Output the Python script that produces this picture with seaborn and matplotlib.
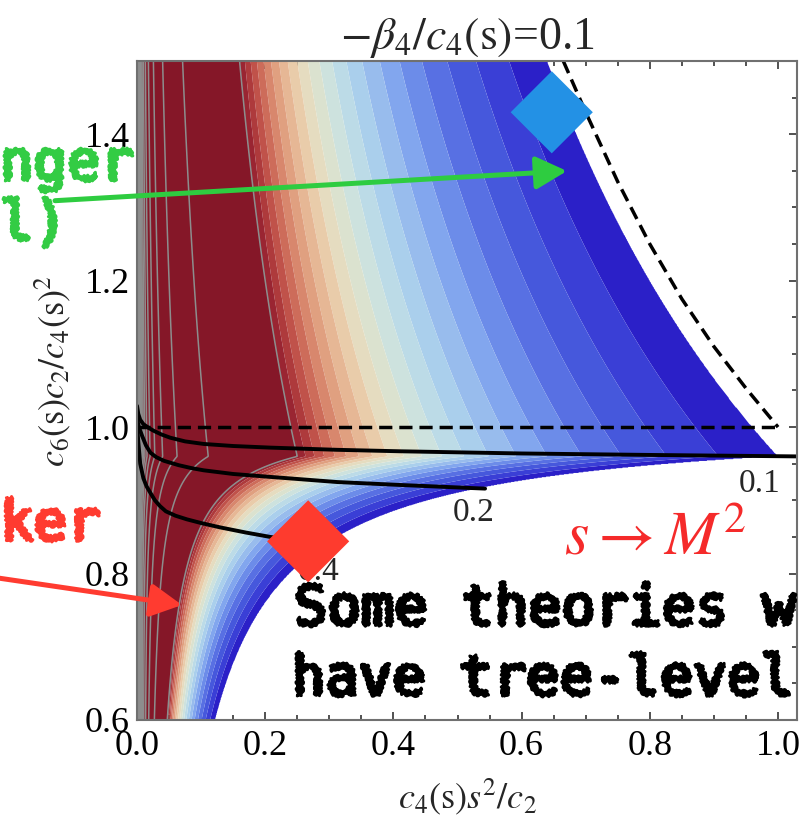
import numpy as np
import pandas as pd
import matplotlib
matplotlib.use("Agg")
import matplotlib.pyplot as plt
import matplotlib.patheffects as pe
from matplotlib.ticker import MultipleLocator, FormatStrFormatter
import seaborn as sns

# ---------------------------------------------------------------- data
x_ticks = [0.0, 0.2, 0.4, 0.6, 0.8, 1.0]
y_ticks = [0.6, 0.8, 1.0, 1.2, 1.4]

# curves of fixed -beta4/c4, labelled 0.1, 0.2, 0.4
curve_labels = ["0.1", "0.2", "0.4"]
curve_01_x = [0.0, 0.002, 0.005, 0.010, 0.018, 0.026, 0.038, 0.052, 0.075, 0.104,
              0.15, 0.208, 0.312, 0.41, 0.6, 0.8, 1.03]
curve_01_y = [1.029, 1.018, 1.010, 1.004, 0.999, 0.995, 0.990, 0.9855, 0.9805, 0.977,
              0.9742, 0.972, 0.969, 0.967, 0.964, 0.962, 0.960]
curve_02_x = [0.0, 0.003, 0.008, 0.014, 0.021, 0.030, 0.042, 0.065, 0.085, 0.104,
              0.15, 0.208, 0.312, 0.41, 0.543]
curve_02_y = [1.012, 1.000, 0.988, 0.975, 0.965, 0.959, 0.954, 0.948, 0.944, 0.941,
              0.936, 0.932, 0.925, 0.921, 0.916]
curve_04_x = [0.0, 0.002, 0.005, 0.010, 0.015, 0.021, 0.028, 0.036, 0.045, 0.060,
              0.078, 0.10, 0.13, 0.17, 0.208, 0.27]
curve_04_y = [1.005, 0.980, 0.950, 0.930, 0.919, 0.910, 0.900, 0.892, 0.885, 0.879,
              0.874, 0.869, 0.863, 0.856, 0.850, 0.843]
label_pos_x = [0.972, 0.526, 0.283]
label_pos_y = [0.922, 0.8835, 0.803]

# dashed reference bounds
dash_h_x = [0.0, 1.0]
dash_h_y = [1.0, 1.0]
dash_c_x = [0.665, 0.70, 0.75, 0.80, 0.85, 0.90, 0.95, 1.0]
dash_c_y = [1.5, 1.43, 1.335, 1.25, 1.175, 1.11, 1.053, 1.0]

# highlighted theories
diamond_x = [0.647, 0.267]
diamond_y = [1.43, 0.844]
diamond_colors = ["#2391e5", "#fe3b2e"]

# allowed-region shape
junction_y = 0.96            # the two branches meet here
upper_product = 0.96         # upper edge: x * y = upper_product
lower_a, lower_b = 0.05, 1.01  # lower edge: x = lower_a / (lower_b - y)
lower_power = 0.23           # extra steepness of the lower branch

# filled levels (20 bands) and grey contour levels
fill_levels = [1.0 + 0.05 * i for i in range(21)]
band_colors = ["#2b20c8", "#3a3fd6", "#4658dc", "#5870e3", "#6c8ce9",
               "#82a6ee", "#98bced", "#aacfec", "#bcdbe7", "#cde2de",
               "#dbe2cf", "#e5dcc0", "#e9ccaa", "#e6b795", "#e0a080",
               "#d8876d", "#cd6c5a", "#c0524a", "#ae3a3c", "#9a2532"]
over_color = "#851728"
line_levels = list(range(2, 60))

# ---------------------------------------------------------------- style
sns.set_theme(style="ticks")
plt.rcParams["font.family"] = ["Liberation Serif", "DejaVu Serif"]
plt.rcParams["mathtext.fontset"] = "stix"

W, H = 804, 826
fig = plt.figure(figsize=(W / 100, H / 100), dpi=100)
fig.patch.set_facecolor("white")
ax = fig.add_axes([137 / W, (H - 720) / H, 660 / W, 659 / H])
ax.set_facecolor("white")

# ---------------------------------------------------------------- field
gx = np.linspace(0.0004, 1.03, 1400)
gy = np.linspace(0.6, 1.5, 1100)
X, Y = np.meshgrid(gx, gy)
upper = Y >= junction_y
T = np.where(upper, X * Y / upper_product, X * (lower_b - Y) / lower_a)
P = np.where(upper, 0.5, 0.5 + lower_power * (junction_y - Y) / (junction_y - 0.6))
F = T ** (-P)
F = np.ma.masked_where(T > 1.0, F)

levels = fill_levels + [float(F.max()) + 1.0]
ax.contourf(X, Y, F, levels=levels, colors=band_colors + [over_color],
            antialiased=True, zorder=1)
ax.contour(X, Y, F, levels=line_levels, colors="#8d8d8d",
           linewidths=1.1, zorder=2)

# ---------------------------------------------------------------- lines
dash = (0, (3.8, 2.0))
sns.lineplot(x=dash_h_x, y=dash_h_y, ax=ax, color="black", lw=2.5,
             linestyle=dash, zorder=3)
sns.lineplot(x=dash_c_x, y=dash_c_y, ax=ax, color="black", lw=2.5,
             linestyle=dash, sort=False, estimator=None, zorder=3)

curves = pd.concat([
    pd.DataFrame({"x": curve_01_x, "y": curve_01_y, "c": "0.1"}),
    pd.DataFrame({"x": curve_02_x, "y": curve_02_y, "c": "0.2"}),
    pd.DataFrame({"x": curve_04_x, "y": curve_04_y, "c": "0.4"}),
])
sns.lineplot(data=curves, x="x", y="y", units="c", estimator=None, sort=False,
             color="black", lw=2.8, ax=ax, zorder=4, legend=False)

for lab, lx, ly in zip(curve_labels, label_pos_x, label_pos_y):
    ax.text(lx, ly, lab, fontsize=24, ha="center", va="center", zorder=4.5)

sns.scatterplot(x=diamond_x, y=diamond_y, hue=[0, 1], palette=diamond_colors,
                marker="D", s=1750, linewidth=0, ax=ax, legend=False, zorder=6)

ax.text(0.808, 0.847, r"$s\rightarrow M^2$", color="#f52a2a", fontsize=45,
        ha="center", va="center", zorder=7)

# ---------------------------------------------------------------- axes
ax.set_xlim(0.0, 1.0296)
ax.set_ylim(0.6, 1.5)
ax.set_xticks(x_ticks)
ax.set_yticks(y_ticks)
ax.xaxis.set_major_formatter(FormatStrFormatter("%.1f"))
ax.yaxis.set_major_formatter(FormatStrFormatter("%.1f"))
ax.xaxis.set_minor_locator(MultipleLocator(0.05))
ax.yaxis.set_minor_locator(MultipleLocator(0.05))
ax.tick_params(which="both", direction="in", top=True, right=True,
               color="#333333", width=1.2, labelsize=26, labelcolor="black")
ax.tick_params(which="major", length=6)
ax.tick_params(which="minor", length=3.5)
ax.tick_params(axis="x", pad=7)
ax.tick_params(axis="y", pad=5)
for sp in ax.spines.values():
    sp.set_color("#707070")
    sp.set_linewidth(1.5)
    sp.set_zorder(8)

ax.set_xlabel(r"$c_4(\mathrm{s})s^2/c_2$", fontsize=26)
ax.xaxis.label.set(va="center")
ax.xaxis.set_label_coords(0.5, -0.117)
ax.set_ylabel(r"$c_6(\mathrm{s})c_2/c_4(\mathrm{s})^2$", fontsize=26)
ax.yaxis.label.set(va="center")
ax.yaxis.set_label_coords(-0.127, 0.53)
ax.set_title(r"$-\beta_4/c_4(\mathrm{s})$=0.1", fontsize=33, y=1.035,
             va="center", pad=0)


# ---------------------------------------------------------------- notes
class Chalk(pe.AbstractPathEffect):
    """Rough, chalk-like outline for hand-written notes."""

    def __init__(self, scale=1.3, length=3.0, randomness=5.0, lw=2.2):
        super().__init__()
        self._sk = (scale, length, randomness)
        self._lw = lw

    def draw_path(self, renderer, gc, tpath, affine, rgbFace=None):
        gc0 = renderer.new_gc()
        gc0.copy_properties(gc)
        gc0.set_sketch_params(*self._sk)
        gc0.set_linewidth(self._lw)
        if rgbFace is not None:
            gc0.set_foreground(rgbFace)
        renderer.draw_path(gc0, tpath, affine, rgbFace)
        gc0.restore()


def note(px, py, s, color, size=40):
    fig.text(px / W, 1 - py / H, s, color=color, fontsize=size,
             family="DejaVu Sans Mono", ha="left",
             va="baseline", path_effects=[Chalk()], zorder=9)


note(294, 625, "Some theories w", "black")
note(292, 695, "have tree-level", "black")
note(0, 180, "nger", "#33cc44")
note(0, 240, "l)", "#33cc44")
note(0, 540, "ker", "#ff3b30")

green = "#2ecc40"
red = "#ff3b30"
ax.annotate("", xy=(567, H - 171), xytext=(55, H - 200.7),
            xycoords="figure pixels", textcoords="figure pixels",
            arrowprops=dict(arrowstyle="-|>,head_length=0.95,head_width=0.5",
                            mutation_scale=20, color=green, lw=3.6,
                            shrinkA=0, shrinkB=0), zorder=9)
ax.annotate("", xy=(182, H - 605), xytext=(-2, H - 578),
            xycoords="figure pixels", textcoords="figure pixels",
            arrowprops=dict(arrowstyle="-|>,head_length=0.95,head_width=0.5",
                            mutation_scale=20, color=red, lw=3.6,
                            shrinkA=0, shrinkB=0), zorder=9,
            annotation_clip=False)

fig.savefig("out.png", dpi=100, facecolor="white")
